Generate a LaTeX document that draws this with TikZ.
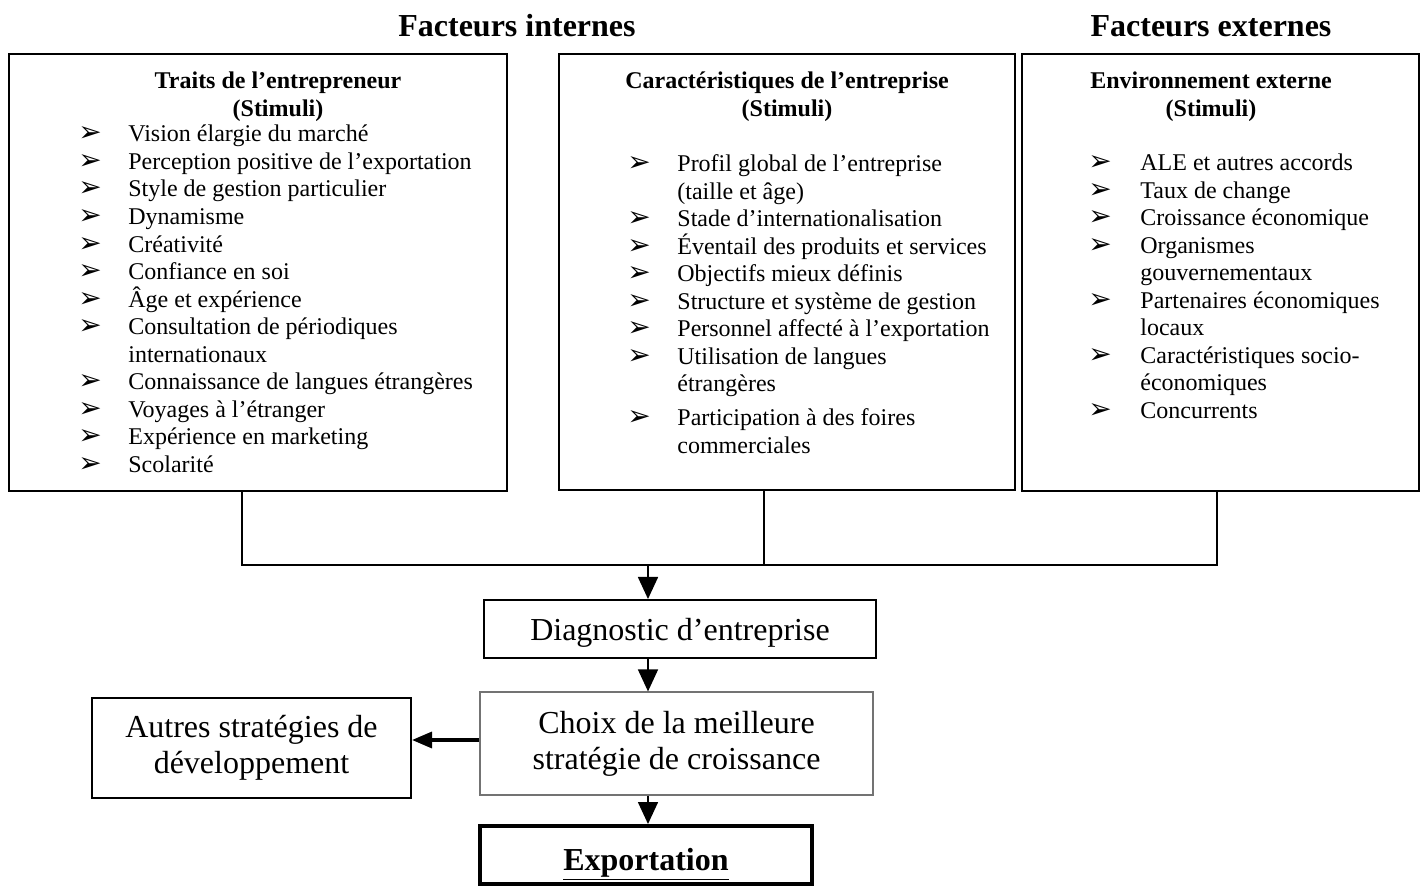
\documentclass[tikz,border=0pt]{standalone}
\usepackage{fontspec}
\setmainfont{Liberation Serif}
\newfontfamily\dingfont{DejaVu Sans}
\usetikzlibrary{arrows.meta}

% one unit = one pixel of a 1424 x 886 canvas, y pointing down
\tikzset{
  x=0.5pt, y=-0.5pt,
  panel/.style={draw, line width=1pt, inner sep=0pt},
  flowbox/.style={draw, line width=1pt, inner sep=0pt, align=center,
    font=\fontsize{16}{18}\selectfont},
  title/.style={font=\bfseries\fontsize{16}{18}\selectfont, inner sep=0pt},
  head/.style={font=\bfseries\fontsize{12}{13.75}\selectfont, align=center, inner sep=0pt},
  itm/.style={anchor=base west, inner sep=0pt, font=\fontsize{12}{13.75}\selectfont},
  bul/.style={anchor=base, inner sep=0pt, font=\dingfont\fontsize{14}{14}\selectfont},
  link/.style={line width=0.8pt},
  arr/.style={line width=0.8pt, -{Triangle[length=11pt,width=10pt]}},
  arrthick/.style={line width=1.6pt, -{Triangle[length=10pt,width=8pt]}},
}
% bulleted line: name, bullet x, text x, baseline y, text
\newcommand\bitem[5]{%
  \node[bul] (#1b) at (#2,#4) {➢};
  \node[itm] (#1) at (#3,#4) {#5};}
% continuation line: name, text x, baseline y, text
\newcommand\citem[4]{\node[itm] (#1) at (#2,#3) {#4};}

\begin{document}
\begin{tikzpicture}
\useasboundingbox[fill=white] (0,0) rectangle (1424,886);

% column titles
\node[title] (tint) at (517,26) {Facteurs internes};
\node[title] (text) at (1211,26) {Facteurs externes};

% the three stimulus panels
\node[panel, minimum width=249pt, minimum height=218.5pt] (p1) at (258,272.5) {};
\node[panel, minimum width=228pt, minimum height=218pt] (p2) at (787,272) {};
\node[panel, minimum width=198.5pt, minimum height=218.5pt] (p3) at (1220.5,272.5) {};

% panel 1: entrepreneur
\node[head] (h1) at (278,96.5) {Traits de l’entrepreneur\\(Stimuli)};
\bitem{a1}{90}{128}{142}{Vision élargie du marché}
\bitem{a2}{90}{128}{169.5}{Perception positive de l’exportation}
\bitem{a3}{90}{128}{197}{Style de gestion particulier}
\bitem{a4}{90}{128}{224.6}{Dynamisme}
\bitem{a5}{90}{128}{252.2}{Créativité}
\bitem{a6}{90}{128}{279.7}{Confiance en soi}
\bitem{a7}{90}{128}{307.3}{Âge et expérience}
\bitem{a8}{90}{128}{334.8}{Consultation de périodiques}
\citem{a8c}{128}{362.4}{internationaux}
\bitem{a9}{90}{128}{390}{Connaissance de langues étrangères}
\bitem{a10}{90}{128}{417.5}{Voyages à l’étranger}
\bitem{a11}{90}{128}{445}{Expérience en marketing}
\bitem{a12}{90}{128}{472.6}{Scolarité}

% panel 2: firm
\node[head] (h2) at (787,96.5) {Caractéristiques de l’entreprise\\(Stimuli)};
\bitem{b1}{639}{677}{172}{Profil global de l’entreprise}
\citem{b1c}{677}{199.5}{(taille et âge)}
\bitem{b2}{639}{677}{227}{Stade d’internationalisation}
\bitem{b3}{639}{677}{254.5}{Éventail des produits et services}
\bitem{b4}{639}{677}{282}{Objectifs mieux définis}
\bitem{b5}{639}{677}{309.5}{Structure et système de gestion}
\bitem{b6}{639}{677}{337}{Personnel affecté à l’exportation}
\bitem{b7}{639}{677}{364.5}{Utilisation de langues}
\citem{b7c}{677}{392}{étrangères}
\bitem{b8}{639}{677}{426}{Participation à des foires}
\citem{b8c}{677}{453.5}{commerciales}

% panel 3: environment
\node[head] (h3) at (1211,96.5) {Environnement externe\\(Stimuli)};
\bitem{c1}{1100}{1140}{171}{ALE et autres accords}
\bitem{c2}{1100}{1140}{198.5}{Taux de change}
\bitem{c3}{1100}{1140}{226}{Croissance économique}
\bitem{c4}{1100}{1140}{253.5}{Organismes}
\citem{c4c}{1140}{281}{gouvernementaux}
\bitem{c5}{1100}{1140}{308.5}{Partenaires économiques}
\citem{c5c}{1140}{336}{locaux}
\bitem{c6}{1100}{1140}{363.5}{Caractéristiques socio-}
\citem{c6c}{1140}{391}{économiques}
\bitem{c7}{1100}{1140}{418.5}{Concurrents}

% decision chain
\node[flowbox, minimum width=196pt, minimum height=29pt, text height=15pt, text depth=3.5pt] (diag) at (680,629) {Diagnostic d’entreprise};
\node[flowbox, draw=black!55, line width=0.6pt, minimum width=196.5pt, minimum height=51.5pt] (choix) at (676.5,743.5) {Choix de la meilleure\\stratégie de croissance};
\node[flowbox, minimum width=159.5pt, minimum height=50pt] (autres) at (251.5,748) {Autres stratégies de\\développement};
\node[flowbox, line width=2pt, minimum width=166pt, minimum height=29pt, text height=19pt, text depth=4pt, font=\bfseries\fontsize{16}{18}\selectfont] (expo) at (646,855) {\underline{Exportation}};

% collector joining the three panels
\coordinate (j1) at (242,565);
\coordinate (j2) at (764,565);
\coordinate (j3) at (1217,565);
\coordinate (j0) at (648,565);
\draw[link] (p1.south -| j1) -- (j1) -- (j3) -- (p3.south -| j3);
\draw[link] (p2.south -| j2) -- (j2);

% flow arrows
\draw[arr] (j0) -- (diag.north -| j0);
\draw[arr] (diag.south -| j0) -- (choix.north -| j0);
\draw[arr] (choix.south -| j0) -- (expo.north -| j0);
\draw[arrthick] (choix.west |- 0,740) -- (autres.east |- 0,740);
\end{tikzpicture}
\end{document}
